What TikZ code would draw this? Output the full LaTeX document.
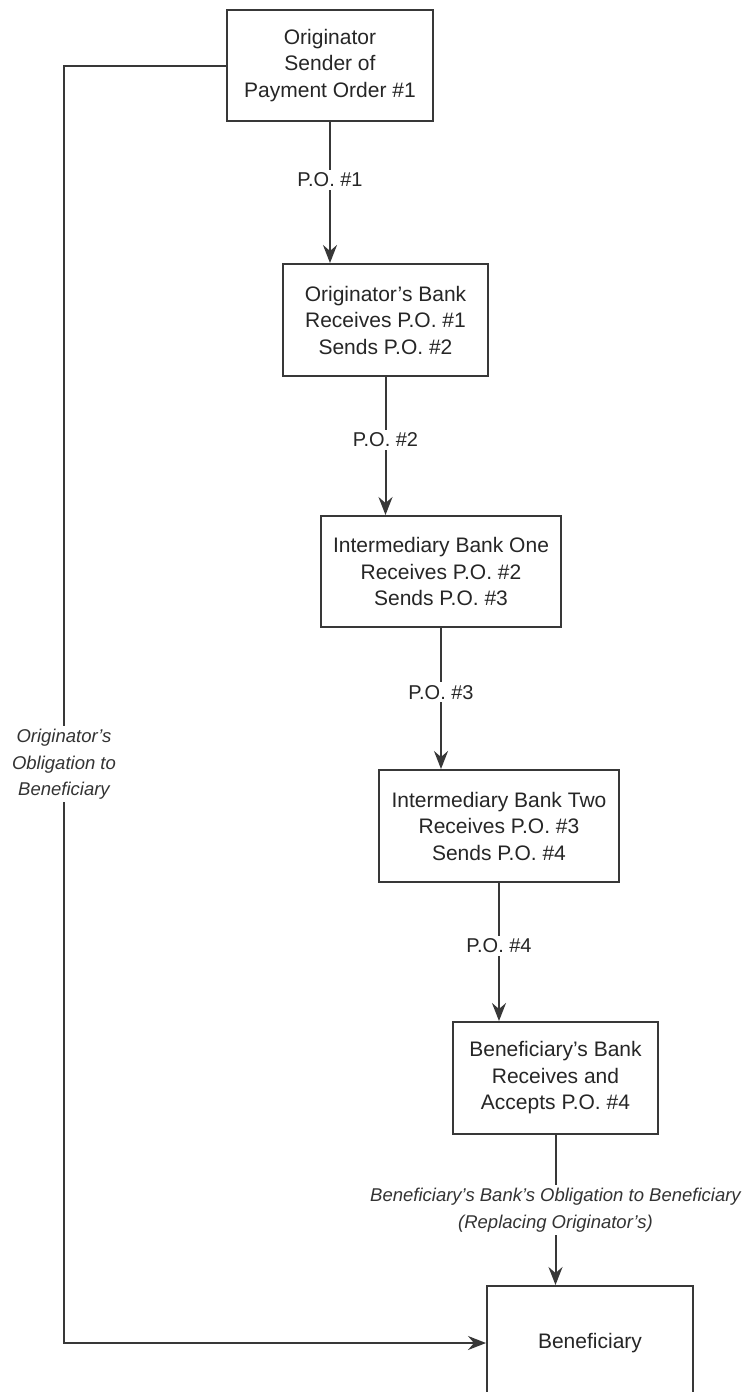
\documentclass[tikz,border=0pt]{standalone}
\usepackage{fontspec}
\setmainfont{Liberation Sans}
\usetikzlibrary{arrows.meta}
\begin{document}
\begin{tikzpicture}[x=1pt,y=-1pt,
  line width=2pt,
  ink/.style={draw=black!78},
  stepbox/.style={ink, fill=white, rectangle, align=center, inner sep=0pt,
    font=\fontsize{21}{26.5}\selectfont, text=black!85},
  polabel/.style={fill=white, inner sep=3pt, font=\fontsize{20}{24}\selectfont, text=black!85},
  obllabel/.style={fill=white, inner sep=3pt, align=center,
    font=\fontsize{18.5}{26.5}\selectfont\itshape, text=black!80},
  flow/.style={ink, -{Stealth[length=18pt,width=14pt,inset=6pt]}}
]
\useasboundingbox (0,0) rectangle (745,1392);
\clip (0,0) rectangle (745,1392);
\fill[white] (0,0) rectangle (745,1392);

\node[stepbox, minimum width=206pt, minimum height=111pt] (b1) at (330,65.5)
  {Originator\\Sender of\\Payment Order \#1};
\node[stepbox, minimum width=205pt, minimum height=112pt] (b2) at (385.5,320)
  {Originator's Bank\\Receives P.O. \#1\\Sends P.O. \#2};
\node[stepbox, minimum width=240pt, minimum height=111pt] (b3) at (441,571.5)
  {Intermediary Bank One\\Receives P.O. \#2\\Sends P.O. \#3};
\node[stepbox, minimum width=240pt, minimum height=112pt] (b4) at (499,826)
  {Intermediary Bank Two\\Receives P.O. \#3\\Sends P.O. \#4};
\node[stepbox, minimum width=205pt, minimum height=112pt] (b5) at (555.5,1078)
  {Beneficiary's Bank\\Receives and\\Accepts P.O. \#4};
\node[stepbox, minimum width=206pt, minimum height=114pt] (b6) at (590,1343)
  {Beneficiary};

\draw[flow] (b1.south) -- node[polabel, pos=0.41] (l1) {P.O. \#1} (b1.south |- b2.north);
\draw[flow] (b2.south) -- node[polabel, pos=0.455] (l2) {P.O. \#2} (b2.south |- b3.north);
\draw[flow] (b3.south) -- node[polabel, pos=0.455] (l3) {P.O. \#3} (b3.south |- b4.north);
\draw[flow] (b4.south) -- node[polabel, pos=0.455] (l4) {P.O. \#4} (b4.south |- b5.north);
\draw[flow] (b5.south) -- node[obllabel, pos=0.5] (l5)
  {Beneficiary's Bank's Obligation to Beneficiary\\(Replacing Originator's)} (b5.south |- b6.north);

\coordinate (lc) at (64,66);
\draw[flow] (b1.west) -- (b1.west -| lc) -- node[obllabel, pos=0.547] (l6)
  {Originator's\\Obligation to\\Beneficiary} (lc |- b6.west) -- (b6.west);
\end{tikzpicture}
\end{document}
